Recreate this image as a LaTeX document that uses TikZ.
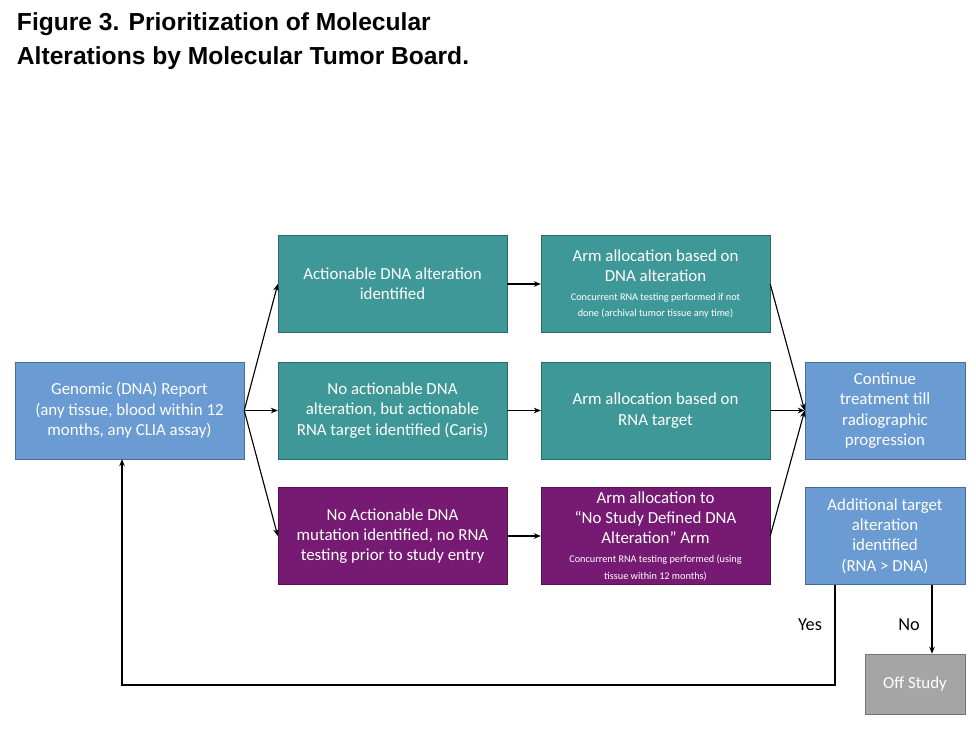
\documentclass[tikz,border=0pt]{standalone}
\usepackage{fontspec}
\setmainfont{Carlito}
\newfontfamily\titlefont{Liberation Sans}
\usetikzlibrary{positioning,arrows.meta}
\definecolor{boxblue}{HTML}{6A9BD3}
\definecolor{boxteal}{HTML}{3F9898}
\definecolor{boxpurple}{HTML}{771A73}
\definecolor{boxgray}{HTML}{A5A5A5}
\tikzset{
  box/.style={draw=#1!70!black, fill=#1, text=white, align=center,
    minimum width=5.72cm, minimum height=2.42cm, inner sep=2pt, font=\fontsize{12}{14.5}\selectfont},
  small/.style={font=\fontsize{7.3}{8.6}\selectfont},
  arr/.style={-{Stealth[length=5pt,width=4pt]}, thick},
}
\begin{document}
\begin{tikzpicture}[x=0.025cm,y=-0.025cm]
  \useasboundingbox (0,0) rectangle (976,731);
  \node[anchor=north west, align=left, font=\titlefont\bfseries\fontsize{17.5}{24}\selectfont] (title) at (12,8)
    {Figure 3. Prioritization of Molecular\\Alterations by Molecular Tumor Board.};

  \node[box=boxblue] (report) at (129.5,410.5) {Genomic (DNA) Report\\(any tissue, blood within 12\\months, any CLIA assay)};
  \node[box=boxteal] (dna) at (392.5,284) {Actionable DNA alteration\\identified};
  \node[box=boxteal] (rna) at (392.5,410.5) {No actionable DNA\\alteration, but actionable\\RNA target identified (Caris)};
  \node[box=boxpurple] (none) at (392.5,536) {No Actionable DNA\\mutation identified, no RNA\\testing prior to study entry};
  \node[box=boxteal] (armdna) at (655.5,284) {Arm allocation based on\\DNA alteration\\[-1pt]{\small\fontsize{7.3}{8.6}\selectfont Concurrent RNA testing performed if not}\\[-3pt]{\fontsize{7.3}{8.6}\selectfont done (archival tumor tissue any time)}};
  \node[box=boxteal] (armrna) at (655.5,410.5) {Arm allocation based on\\RNA target};
  \node[box=boxpurple] (armnone) at (655.5,536) {Arm allocation to\\“No Study Defined DNA\\Alteration” Arm\\[-1pt]{\fontsize{7.3}{8.6}\selectfont Concurrent RNA testing performed (using}\\[-3pt]{\fontsize{7.3}{8.6}\selectfont tissue within 12 months)}};
  \node[box=boxblue, minimum width=4cm] (cont) at (885,410.5) {Continue\\treatment till\\radiographic\\progression};
  \node[box=boxblue, minimum width=4cm] (addl) at (885,536) {Additional target\\alteration\\identified\\(RNA > DNA)};
  \node[box=boxgray, minimum width=2.5cm, minimum height=1.5cm] (off) at (915,684) {Off Study};

  \draw[arr] (report.east) -- (dna.west);
  \draw[arr] (report.east) -- (rna.west);
  \draw[arr] (report.east) -- (none.west);
  \draw[arr] (dna) -- (armdna);
  \draw[arr] (rna) -- (armrna);
  \draw[arr] (none) -- (armnone);
  \draw[arr] (armdna.east) -- (cont.west);
  \draw[arr] (armrna.east) -- (cont.west);
  \draw[arr] (armnone.east) -- (cont.west);

  \coordinate (yesturn) at (835,685);
  \coordinate (backturn) at (122,685);
  \draw[arr] (addl.south -| yesturn) -- (yesturn) -- (backturn) -- (report.south -| backturn);
  \draw[arr] (addl.south -| off.north) ++(17,0) coordinate (nostart) -- (nostart |- off.north);
  \node[font=\fontsize{13}{15}\selectfont] (yes) at (810,625) {Yes};
  \node[font=\fontsize{13}{15}\selectfont] (no) at (909,625) {No};
\end{tikzpicture}
\end{document}
